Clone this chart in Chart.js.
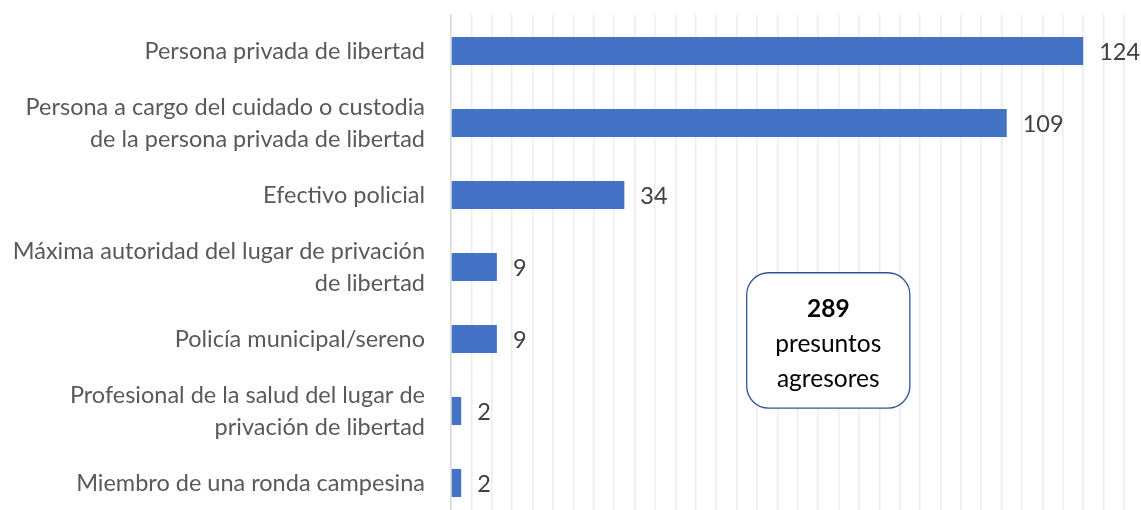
<!DOCTYPE html>
<html>
<head>
<meta charset="utf-8">
<script src="https://cdn.jsdelivr.net/npm/chart.js@4/dist/chart.umd.min.js"></script>
<style>
  html, body { margin: 0; padding: 0; background: #fff; overflow: hidden; }
</style>
</head>
<body>
<canvas id="chartAgresores" width="1141" height="530"></canvas>
<script>
/* ---- Datos ---- */
var CATEGORIAS = [
    ['Persona privada de libertad'],
    ['Persona a cargo del cuidado o custodia', 'de la persona privada de libertad'],
    ['Efectivo policial'],
    ['Máxima autoridad del lugar de privación', 'de libertad'],
    ['Policía municipal/sereno'],
    ['Profesional de la salud del lugar de', 'privación de libertad'],
    ['Miembro de una ronda campesina']
];
var VALORES     = [124, 109, 34, 9, 9, 2, 2];
var EJE_MIN     = 0;
var EJE_MAX     = 132;
var EJE_PASO    = 4;
var TOTAL_TEXTO = ['289', 'presuntos', 'agresores'];

var FUENTE = 'Lato, "Open Sans", sans-serif';

/* ---- Etiquetas de valor al final de cada barra ---- */
var valoresPlugin = {
    id: 'valores',
    afterDatasetsDraw: function(chart) {
        var ctx = chart.ctx;
        var meta = chart.getDatasetMeta(0);
        ctx.save();
        ctx.font = '23.5px ' + FUENTE;
        ctx.fillStyle = '#404040';
        ctx.textAlign = 'left';
        ctx.textBaseline = 'middle';
        meta.data.forEach(function(bar, i) {
            ctx.fillText(String(VALORES[i]), bar.x + 16, bar.y + 1);
        });
        ctx.restore();
    }
};

/* ---- Recuadro con el total ---- */
var totalPlugin = {
    id: 'total',
    afterDraw: function(chart) {
        var ctx = chart.ctx;
        var sx = chart.scales.x, sy = chart.scales.y;
        var x1 = sx.getPixelForValue(58), x2 = sx.getPixelForValue(90);
        var y1 = sy.getPixelForValue(3.08), y2 = sy.getPixelForValue(4.96);
        var r = 22;
        ctx.save();
        ctx.beginPath();
        ctx.moveTo(x1 + r, y1);
        ctx.arcTo(x2, y1, x2, y2, r);
        ctx.arcTo(x2, y2, x1, y2, r);
        ctx.arcTo(x1, y2, x1, y1, r);
        ctx.arcTo(x1, y1, x2, y1, r);
        ctx.closePath();
        ctx.fillStyle = '#ffffff';
        ctx.fill();
        ctx.lineWidth = 1.3;
        ctx.strokeStyle = '#2F5597';
        ctx.stroke();

        var cx = (x1 + x2) / 2, cy = (y1 + y2) / 2;
        ctx.fillStyle = '#000000';
        ctx.textAlign = 'center';
        ctx.textBaseline = 'middle';
        ctx.font = 'bold 24.5px ' + FUENTE;
        ctx.fillText(TOTAL_TEXTO[0], cx, cy - 31);
        ctx.font = '24.5px ' + FUENTE;
        ctx.fillText(TOTAL_TEXTO[1], cx, cy + 4);
        ctx.fillText(TOTAL_TEXTO[2], cx, cy + 39);
        ctx.restore();
    }
};

new Chart(document.getElementById('chartAgresores'), {
    type: 'bar',
    data: {
        labels: CATEGORIAS,
        datasets: [{
            data: VALORES,
            backgroundColor: '#4472C4',
            borderWidth: 0,
            categoryPercentage: 1,
            barPercentage: 0.39
        }]
    },
    options: {
        indexAxis: 'y', responsive: false,
        animation: false,
        layout: { padding: { top: 15, right: 17, bottom: 11, left: 0 } },
        plugins: { legend: { display: false }, tooltip: { enabled: false } },
        scales: {
            x: {
                min: EJE_MIN, max: EJE_MAX,
                ticks: { display: false, stepSize: EJE_PASO },
                grid: { color: '#ececec', lineWidth: 1.5, drawTicks: false },
                border: { display: false },
                afterFit: function(scale) { scale.height = 0; scale.paddingLeft = 0; scale.paddingRight = 0; }
            },
            y: {
                afterFit: function(scale) {
                    scale.width = 451;
                    scale.paddingTop = 0; scale.paddingBottom = 0;
                },
                ticks: {
                    color: '#595959', padding: 26,
                    font: { family: FUENTE, size: 23.5, lineHeight: 1.36 }
                },
                grid: { display: false, drawTicks: false },
                border: { display: true, color: '#d9d9d9', width: 1.5 }
            }
        }
    },
    plugins: [valoresPlugin, totalPlugin]
});
</script>
</body>
</html>
